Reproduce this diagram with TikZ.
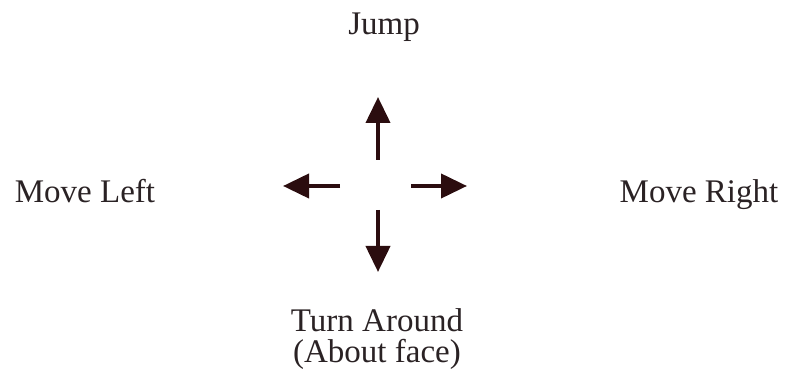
\documentclass[tikz,border=0pt]{standalone}
\usepackage{fontspec}
\setmainfont{Liberation Serif}
\usepackage{tikz}
\usetikzlibrary{positioning, arrows.meta}

\definecolor{arrowbrown}{HTML}{2B0D0F}
\definecolor{labelgray}{HTML}{2A2224}

\begin{document}
\begin{tikzpicture}[
  x=1pt, y=1pt,
  font=\fontsize{33}{30}\selectfont,
  label/.style={text=labelgray, inner sep=0pt, anchor=base},
  move/.style={draw=arrowbrown, line width=4pt,
    -{Triangle[length=26pt, width=24pt]}},
]
  \useasboundingbox (0,0) rectangle (786,377);

  % centre of the cross
  \coordinate (hub) at (378,191);

  \coordinate[above=26pt of hub] (upTail);
  \coordinate[above=89pt of hub] (upTip);
  \coordinate[below=24pt of hub] (downTail);
  \coordinate[below=86pt of hub] (downTip);
  \coordinate[left=38pt of hub] (leftTail);
  \coordinate[left=95pt of hub] (leftTip);
  \coordinate[right=33pt of hub] (rightTail);
  \coordinate[right=89pt of hub] (rightTip);

  \draw[move] (upTail) -- (upTip);
  \draw[move] (downTail) -- (downTip);
  \draw[move] (leftTail) -- (leftTip);
  \draw[move] (rightTail) -- (rightTip);

  \node[label] (jump) at (384,342) {Jump};
  \node[label] (left) at (85,174) {Move Left};
  \node[label] (right) at (699,174) {Move Right};
  \node[label] (turn) at (377,45) {Turn Around};
  \node[label] (face) at (377,15) {(About face)};
\end{tikzpicture}
\end{document}
